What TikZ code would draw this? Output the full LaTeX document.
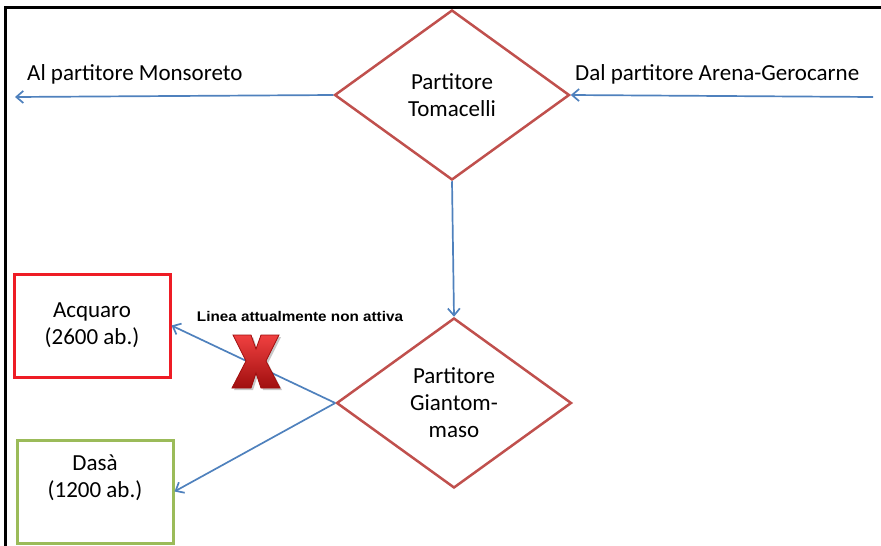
\documentclass[tikz,border=0pt]{standalone}
\usepackage{fontspec}
\usepackage{graphicx}
\setmainfont{Carlito}
\newfontfamily\labelfont{Liberation Sans}
\usetikzlibrary{shapes.geometric,arrows.meta}
\definecolor{diamred}{HTML}{C0504D}
\definecolor{flowblue}{HTML}{4F81BD}
\definecolor{boxred}{HTML}{EE1C25}
\definecolor{boxgreen}{HTML}{9BBB59}
\definecolor{xlight}{HTML}{F04040}
\definecolor{xdark}{HTML}{A00F0F}
\begin{document}
\begin{tikzpicture}[x=1pt,y=-1pt,
  txt/.style={font=\fontsize{23}{27}\selectfont, inner sep=0},
  diam/.style={diamond, draw=diamred, line width=2.5pt, aspect=1.382,
    minimum width=235, minimum height=170, inner sep=0, align=center, txt},
  cbox/.style={rectangle, line width=3pt, minimum width=156,
    minimum height=103, inner sep=0, align=center, txt},
  flow/.style={draw=flowblue, line width=1.7pt,
    -{Straight Barb[length=7pt,width=12pt,line width=1.7pt]}}]
\useasboundingbox (0,0) rectangle (881,546);

% frame
\draw[line width=3pt] (5,546) -- (5,7) -- (881,7);

% splitters
\node[diam] (tom) at (452,95) {Partitore\\Tomacelli};
\node[diam] (gian) at (454,403) {Partitore\\Giantom-\\maso};

% destination boxes
\node[cbox, draw=boxred] (acq) at (92,325.5) {Acquaro\\(2600 ab.)};
\node[cbox, draw=boxgreen] (dasa) at (95,491.5) {};
\node[txt, align=center] (dasatxt) at (95,478) {Dasà\\(1200 ab.)};

% labels
\node[txt, anchor=base west] (lmon) at (27,80) {Al partitore Monsoreto};
\node[txt, anchor=base west] (larena) at (575,80) {Dal partitore Arena-Gerocarne};
\node[anchor=base, inner sep=0, font=\labelfont\bfseries\fontsize{14}{16}\selectfont]
  (lnon) at (300,321) {\scalebox{1.09}[1]{Linea attualmente non attiva}};

% flows
\coordinate (monend) at (15,97);
\coordinate (arstart) at (873,97);
\draw[flow] (tom.west) -- (monend);
\draw[flow] (arstart) -- (tom.east);
\draw[flow] (tom.south) -- (gian.north);
\draw[flow] (gian.west) -- (acq.east);
\draw[flow] (gian.west) -- (dasa.east);

% red cross over the inactive line
\begin{scope}[shift={(256,361)}]
  \fill[black, opacity=0.22, shift={(2,2)}]
    (-23,-26) -- (-5,-26) -- (0,-12) -- (5,-26) -- (23,-26) -- (10,0) --
    (24,27) -- (5,27) -- (0,12) -- (-5,27) -- (-24,27) -- (-10,0) -- cycle;
  \shade[top color=xlight, bottom color=xdark, draw=xdark, line width=0.8pt]
    (-23,-26) -- (-5,-26) -- (0,-12) -- (5,-26) -- (23,-26) -- (10,0) --
    (24,27) -- (5,27) -- (0,12) -- (-5,27) -- (-24,27) -- (-10,0) -- cycle;
\end{scope}
\end{tikzpicture}
\end{document}
